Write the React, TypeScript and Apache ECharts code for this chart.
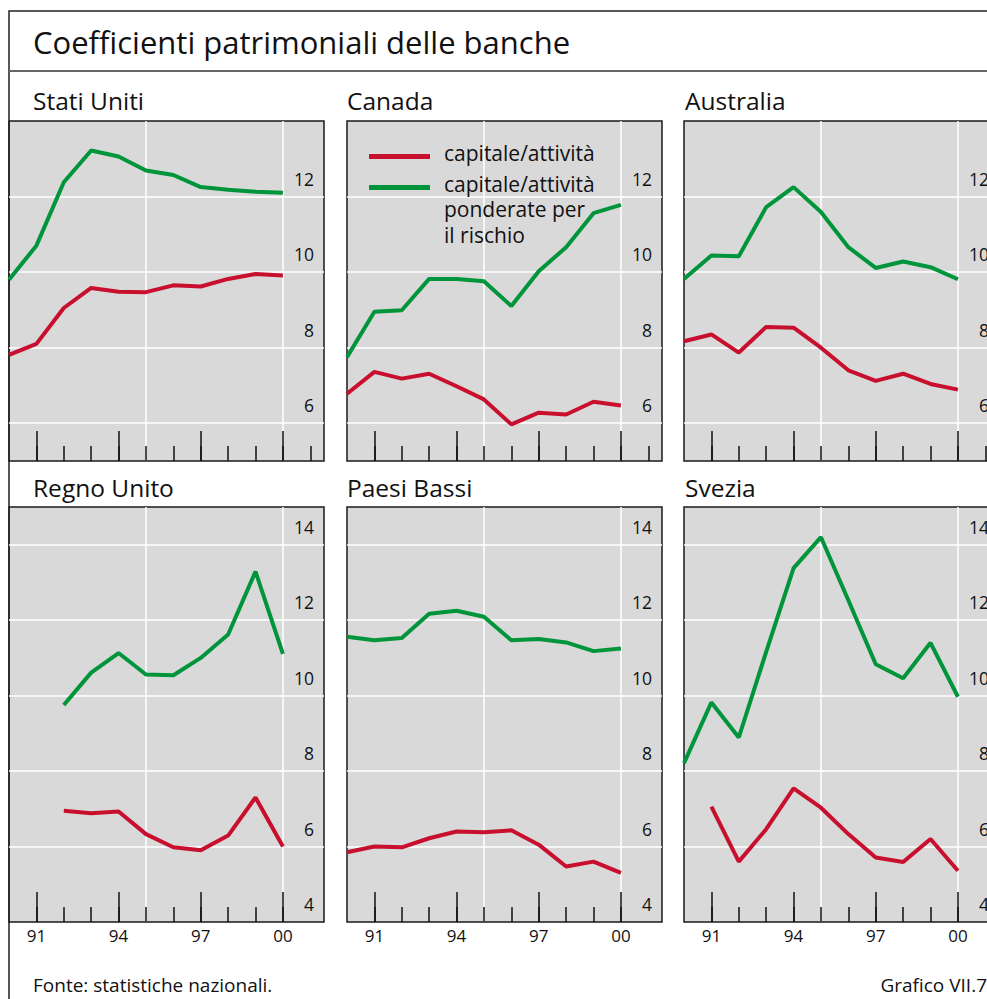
import React, { useEffect, useRef } from 'react';
import * as echarts from 'echarts';

// ---------- data ----------
const years = [1990, 1991, 1992, 1993, 1994, 1995, 1996, 1997, 1998, 1999, 2000];
const minorYearsTop = [1991, 1992, 1993, 1994, 1995, 1996, 1997, 1998, 1999, 2000, 2001];
const minorYearsBottom = [1991, 1992, 1993, 1994, 1995, 1996, 1997, 1998, 1999, 2000];
const majorYears = [1991, 1994, 1997, 2000];
const gridYears = [1995, 2000];
const topLabelValues = [6, 8, 10, 12];
const topGridValues = [6, 8, 10, 12];
const bottomLabelValues = [4, 6, 8, 10, 12, 14];
const bottomGridValues = [6, 8, 10, 12, 14];

const panelTitles = ['Stati Uniti', 'Canada', 'Australia', 'Regno Unito', 'Paesi Bassi', 'Svezia'];

// capitale/attività
const usCapital = [7.81, 8.1, 9.05, 9.58, 9.48, 9.47, 9.65, 9.62, 9.82, 9.95, 9.91];
const caCapital = [6.78, 7.36, 7.18, 7.31, 6.98, 6.63, 5.97, 6.28, 6.23, 6.57, 6.47];
const auCapital = [8.17, 8.35, 7.87, 8.55, 8.53, 8.0, 7.4, 7.12, 7.31, 7.04, 6.89];
const ukCapital = [null, null, 6.95, 6.88, 6.93, 6.33, 5.98, 5.9, 6.29, 7.3, 6.0];
const nlCapital = [5.85, 6.0, 5.98, 6.22, 6.4, 6.38, 6.43, 6.05, 5.47, 5.6, 5.3];
const seCapital = [null, 7.06, 5.6, 6.46, 7.54, 7.03, 6.33, 5.71, 5.59, 6.2, 5.36];

// capitale/attività ponderate per il rischio
const usRisk = [9.8, 10.7, 12.38, 13.22, 13.06, 12.69, 12.57, 12.25, 12.18, 12.13, 12.1];
const caRisk = [7.75, 8.95, 8.99, 9.82, 9.82, 9.76, 9.1, 10.02, 10.66, 11.56, 11.78];
const auRisk = [9.82, 10.44, 10.42, 11.72, 12.25, 11.59, 10.66, 10.11, 10.28, 10.13, 9.81];
const ukRisk = [null, null, 9.75, 10.61, 11.13, 10.56, 10.54, 11.0, 11.62, 13.29, 11.11];
const nlRisk = [11.56, 11.47, 11.53, 12.17, 12.25, 12.09, 11.47, 11.5, 11.41, 11.18, 11.25];
const seRisk = [8.21, 9.82, 8.89, 11.16, 13.38, 14.2, 12.53, 10.83, 10.46, 11.4, 9.97];

const capitalSeries = [usCapital, caCapital, auCapital, ukCapital, nlCapital, seCapital];
const riskSeries = [usRisk, caRisk, auRisk, ukRisk, nlRisk, seRisk];

const CAP_NAME = 'capitale/attività';
const RISK_NAME = 'capitale/attività ponderate per il rischio';

// ---------- styles ----------
const FONT = '"Open Sans", "Noto Sans", sans-serif';
const RED = '#C8102E';
const GREEN = '#00953B';
const PLOT_BG = '#D9D9D9';
const INK = '#111111';

const colLefts = [9, 347, 684];
const rowTops = [121, 507];
const rowHeights = [340, 415];
const panelWidth = 315;

function toPairs(vals: (number | null)[]) {
  const out: [number, number][] = [];
  vals.forEach((v, i) => {
    if (v !== null) out.push([years[i], v]);
  });
  return out;
}

function buildOption() {
  const grids: any[] = [];
  const xAxes: any[] = [];
  const yAxes: any[] = [];
  const series: any[] = [];

  panelTitles.forEach((_, i) => {
    const row = Math.floor(i / 3);
    const col = i % 3;
    const isTop = row === 0;
    grids.push({
      left: colLefts[col],
      top: rowTops[row],
      width: panelWidth,
      height: rowHeights[row],
      show: true,
      backgroundColor: PLOT_BG,
      borderColor: '#1a1a1a',
      borderWidth: 1.5,
      containLabel: false,
      outerBoundsMode: 'none',
    });
    const base = {
      type: 'value',
      gridIndex: i,
      position: 'bottom',
      min: 1990,
      max: 2001.5,
      axisLine: { show: false, onZero: false },
      splitLine: { show: false },
      axisLabel: { show: false },
      axisTick: { show: false },
    };
    xAxes.push({
      ...base,
      axisTick: {
        show: true,
        inside: true,
        length: 15,
        lineStyle: { color: INK, width: 1.5 },
        customValues: isTop ? minorYearsTop : minorYearsBottom,
      },
      axisLabel: isTop
        ? { show: false }
        : {
            show: true,
            customValues: majorYears,
            formatter: (v: number) => String(v % 100).padStart(2, '0'),
            margin: 5,
            fontSize: 17,
            fontFamily: FONT,
            color: INK,
          },
    });
    xAxes.push({
      ...base,
      axisTick: {
        show: true,
        inside: true,
        length: 30,
        lineStyle: { color: INK, width: 1.5 },
        customValues: majorYears,
      },
    });
    xAxes.push({
      ...base,
      axisTick: { show: false, customValues: gridYears },
      splitLine: { show: true, lineStyle: { color: '#ffffff', width: 1.5 } },
    });
    yAxes.push({
      type: 'value',
      gridIndex: i,
      position: 'right',
      min: isTop ? 5 : 4,
      max: isTop ? 14 : 15,
      axisLine: { show: false },
      axisTick: { show: false, customValues: isTop ? topGridValues : bottomGridValues },
      splitLine: { show: true, lineStyle: { color: '#ffffff', width: 1.5 } },
      axisLabel: {
        show: true,
        inside: true,
        customValues: isTop ? topLabelValues : bottomLabelValues,
        margin: 10,
        fontSize: 17.5,
        fontFamily: FONT,
        color: INK,
        verticalAlign: 'bottom',
        padding: [0, 0, 9, 0],
      },
    });
    series.push({
      type: 'line',
      name: CAP_NAME,
      xAxisIndex: i * 3,
      yAxisIndex: i,
      data: toPairs(capitalSeries[i]),
      symbol: 'none',
      showSymbol: false,
      lineStyle: { color: RED, width: 4, cap: 'butt' },
      itemStyle: { color: RED },
      z: 3,
    });
    series.push({
      type: 'line',
      name: RISK_NAME,
      xAxisIndex: i * 3,
      yAxisIndex: i,
      data: toPairs(riskSeries[i]),
      symbol: 'none',
      showSymbol: false,
      lineStyle: { color: GREEN, width: 4, cap: 'butt' },
      itemStyle: { color: GREEN },
      z: 3,
    });
  });

  const titleText = (text: string, x: number, y: number) => ({
    type: 'text',
    x,
    y,
    style: { text, fontSize: 24.5, fontFamily: FONT, fill: INK, verticalAlign: 'middle' },
  });

  const graphic: any[] = [
    {
      type: 'rect',
      silent: true,
      shape: { x: 9, y: 11, width: 1200, height: 1200 },
      style: { fill: 'none', stroke: '#222222', lineWidth: 1.5 },
    },
    {
      type: 'line',
      silent: true,
      shape: { x1: 9, y1: 71, x2: 1000, y2: 71 },
      style: { stroke: '#666666', lineWidth: 2 },
    },
    {
      type: 'text',
      x: 33,
      y: 42,
      style: {
        text: 'Coefficienti patrimoniali delle banche',
        fontSize: 31,
        fontFamily: FONT,
        fill: INK,
        verticalAlign: 'middle',
      },
    },
    titleText(panelTitles[0], 33, 100),
    titleText(panelTitles[1], 347, 100),
    titleText(panelTitles[2], 685, 100),
    titleText(panelTitles[3], 33, 487),
    titleText(panelTitles[4], 347, 487),
    titleText(panelTitles[5], 685, 487),
    {
      type: 'text',
      x: 444,
      y: 209,
      z: 10,
      style: { text: 'ponderate per', fontSize: 21, fontFamily: FONT, fill: INK, verticalAlign: 'middle' },
    },
    {
      type: 'text',
      x: 444,
      y: 235,
      z: 10,
      style: { text: 'il rischio', fontSize: 21, fontFamily: FONT, fill: INK, verticalAlign: 'middle' },
    },
    {
      type: 'text',
      x: 33,
      y: 985,
      style: { text: 'Fonte: statistiche nazionali.', fontSize: 19, fontFamily: FONT, fill: INK, verticalAlign: 'middle' },
    },
    {
      type: 'text',
      x: 987,
      y: 985,
      style: { text: 'Grafico VII.7', fontSize: 19, fontFamily: FONT, fill: INK, verticalAlign: 'middle', align: 'right' },
    },
  ];

  return {
    animation: false,
    backgroundColor: '#ffffff',
    textStyle: { fontFamily: FONT },
    grid: grids,
    xAxis: xAxes,
    yAxis: yAxes,
    series,
    legend: {
      orient: 'vertical',
      left: 369,
      top: 142,
      padding: 0,
      itemWidth: 61,
      itemHeight: 5,
      itemGap: 2,
      icon: 'rect',
      selectedMode: false,
      data: [CAP_NAME, RISK_NAME],
      formatter: (n: string) => '{t|' + CAP_NAME + '}',
      textStyle: {
        fontFamily: FONT,
        fontSize: 21,
        color: INK,
        rich: {
          t: { fontFamily: FONT, fontSize: 21, color: INK, lineHeight: 20, padding: [0, 0, 8, 9] },
        },
      },
    },
    graphic,
  };
}

export default function App() {
  const ref = useRef<HTMLDivElement>(null);
  useEffect(() => {
    if (!ref.current) return;
    const chart = echarts.init(ref.current, undefined, { renderer: 'svg' });
    chart.setOption(buildOption() as any);
    return () => chart.dispose();
  }, []);
  return (
    <div
      ref={ref}
      style={{ position: 'fixed', left: 0, top: 0, width: 987, height: 999, background: '#fff' }}
    />
  );
}
